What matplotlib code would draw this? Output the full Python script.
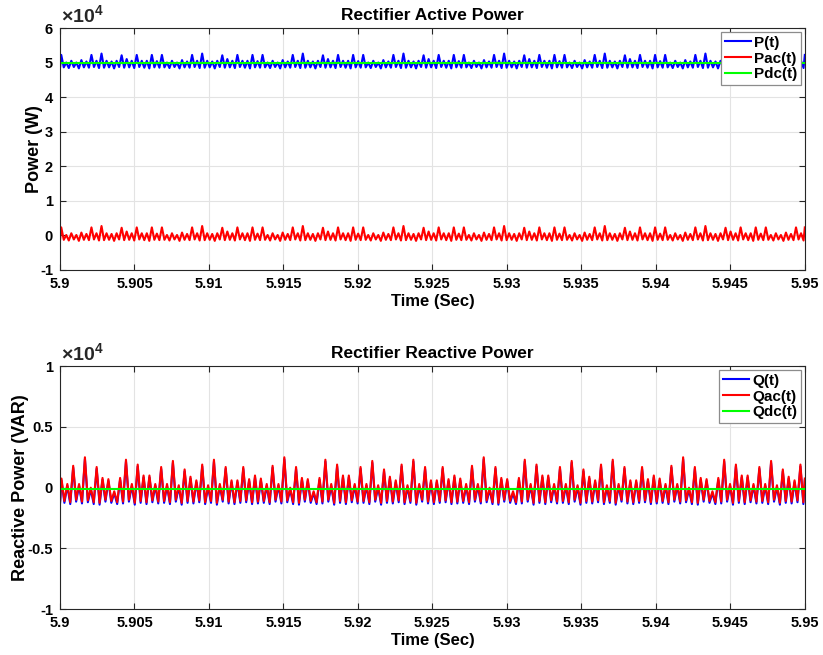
import numpy as np
import matplotlib
matplotlib.use("Agg")
import matplotlib.pyplot as plt
from matplotlib.ticker import FuncFormatter, MultipleLocator

plt.rcParams['font.family'] = ['Liberation Sans', 'DejaVu Sans']
plt.rcParams['font.weight'] = 'bold'
plt.rcParams['axes.unicode_minus'] = False
plt.rcParams['mathtext.fontset'] = 'custom'
plt.rcParams['mathtext.rm'] = 'Liberation Sans'
plt.rcParams['mathtext.bf'] = 'Liberation Sans:bold'

# Time window (s)
t_start, t_end = 5.90, 5.95
x_ticks = [5.9, 5.905, 5.91, 5.915, 5.92, 5.925, 5.93, 5.935, 5.94, 5.945, 5.95]

# Active power: DC level and AC ripple extremes (W), one entry per ripple cycle
pdc_level = 49950.0
pac_peaks = [2300, 100, 600, 100, 800, 400, 2300, 600, 2700, 600,
             400, 600, 2200, 1100, 600, 2300, 600, 600, 2300, 500]
pac_troughs = [-1300, -1500, -1200, -1600, -1300, -1400, -1200, -1500, -1400, -1300,
               -1600, -1200, -1400, -1300, -1500, -1200, -1400, -1600, -1300, -1400]
n_p_cycles = 148

# Reactive power: DC level and AC ripple extremes (VAR), one entry per ripple cycle
qdc_level = -150.0
qac_peaks = [750, 300, 1800, 300, 2500, 0, 1700, 800, 700, -300, 800, 2300, 300, 1900, 1000, 1000, 300,
             1700, 300, 2200, 200, 1500, 900, 600, 1900, 200, 2300, 300, 1700, 600, 600, 1700, 700, 1000]
qac_troughs = [-1100, -1200, -1000, -1150, -1050, -1200, -1250, -1000, -1100, -1200, -1150, -1000,
               -1250, -1100, -1200, -1050, -1150, -1100, -1200, -1000, -1250, -1100, -1150, -1050,
               -1200, -1100, -1250, -1000, -1150, -1200, -1100, -1050, -1200, -1150]
n_q_cycles = 127


def ripple(peaks, troughs, n_cycles):
    pk = np.resize(np.asarray(peaks, float), n_cycles)
    tr = np.resize(np.asarray(troughs, float), n_cycles)
    period = (t_end - t_start) / n_cycles
    k = np.arange(n_cycles)
    t = np.empty(2 * n_cycles)
    v = np.empty(2 * n_cycles)
    t[0::2] = t_start + (k + 0.25) * period
    t[1::2] = t_start + (k + 0.75) * period
    v[0::2] = pk
    v[1::2] = tr
    t = np.concatenate([[t_start], t, [t_end]])
    v = np.concatenate([[v[-1]], v, [v[0]]])
    return t, v


tp, pac = ripple(pac_peaks, pac_troughs, n_p_cycles)
tq, qac = ripple(qac_peaks, qac_troughs, n_q_cycles)
p_total = pac + pdc_level
pdc = np.full_like(tp, pdc_level)
q_total = qac + qdc_level
qdc = np.full_like(tq, qdc_level)

fig = plt.figure(figsize=(8.23, 6.55), dpi=100)
ax1 = fig.add_axes([0.0729, 0.588, 0.905, 0.369])
ax2 = fig.add_axes([0.0729, 0.070, 0.905, 0.371])

BLUE, RED, GREEN = '#0000ff', '#ff0000', '#00ff00'
lw = 1.5
fs_tick = 10.5
fs_lab = 12


def style(ax, ylim, ystep, title, ylabel, ylabelpad):
    ax.set_xlim(t_start, t_end)
    ax.set_ylim(*ylim)
    ax.set_xticks(x_ticks)
    ax.xaxis.set_major_formatter(FuncFormatter(lambda v, p: '%g' % round(v, 4)))
    ax.yaxis.set_major_locator(MultipleLocator(ystep))
    ax.yaxis.set_major_formatter(FuncFormatter(lambda v, p: '%g' % round(v / 1e4, 3)))
    ax.grid(True, color='#e3e3e3', linewidth=0.8)
    ax.set_axisbelow(True)
    ax.tick_params(direction='in', top=True, right=True, length=4, width=0.8,
                   labelsize=fs_tick, color='#262626', pad=5)
    for lab in ax.get_xticklabels() + ax.get_yticklabels():
        lab.set_fontweight('bold')
    for s in ax.spines.values():
        s.set_color('#262626')
        s.set_linewidth(0.8)
    ax.set_title(title, fontsize=12.5, fontweight='bold', pad=6)
    ax.set_xlabel('Time (Sec)', fontsize=fs_lab, fontweight='bold', labelpad=2)
    ax.set_ylabel(ylabel, fontsize=13, fontweight='bold', labelpad=ylabelpad)
    ax.text(0.002, 1.008, r'$\times\mathregular{10^{4}}$', transform=ax.transAxes,
            fontsize=14, ha='left', va='bottom', color='#262626')


ax1.plot(tp, p_total, color=BLUE, lw=lw, label='P(t)')
ax1.plot(tp, pac, color=RED, lw=lw, label='Pac(t)')
ax1.plot(tp, pdc, color=GREEN, lw=lw, label='Pdc(t)')
style(ax1, (-10000, 60000), 10000, 'Rectifier Active Power', 'Power (W)', -2)

ax2.plot(tq, q_total, color=BLUE, lw=lw, label='Q(t)')
ax2.plot(tq, qac, color=RED, lw=lw, label='Qac(t)')
ax2.plot(tq, qdc, color=GREEN, lw=lw, label='Qdc(t)')
style(ax2, (-10000, 10000), 5000, 'Rectifier Reactive Power', 'Reactive Power (VAR)', -1)

for ax in (ax1, ax2):
    leg = ax.legend(loc='upper right', fontsize=11, fancybox=False, framealpha=1,
                    edgecolor='#8c8c8c', borderpad=0.25, labelspacing=0.12,
                    handlelength=1.7, handletextpad=0.2, borderaxespad=0.25)
    leg.get_frame().set_linewidth(0.9)
    for txt in leg.get_texts():
        txt.set_fontweight('bold')

fig.savefig('out.png', dpi=100)
